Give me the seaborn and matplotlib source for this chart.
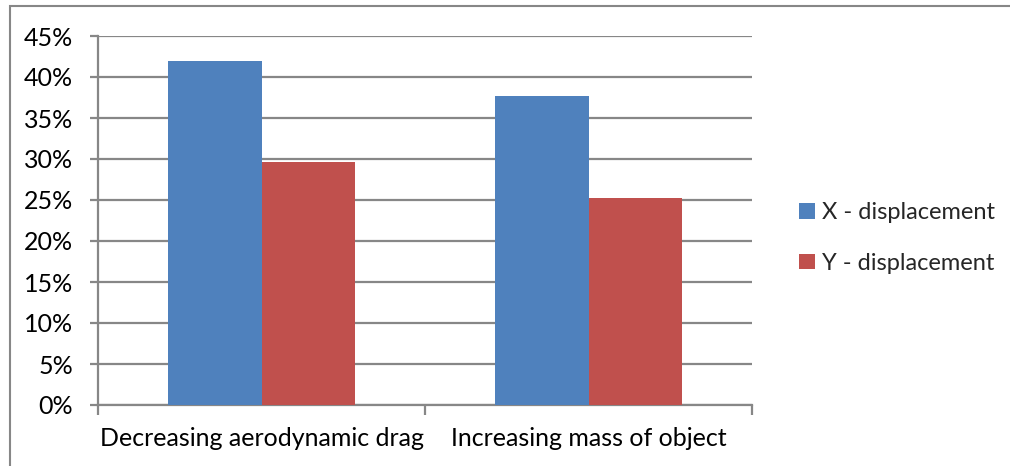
import matplotlib
matplotlib.use("Agg")
import matplotlib.pyplot as plt
from matplotlib.patches import Rectangle
from matplotlib.ticker import MultipleLocator, FixedLocator, PercentFormatter
import seaborn as sns
import pandas as pd

# Share of change in displacement for each scenario
categories = ["Decreasing aerodynamic drag", "Increasing mass of object"]
series_names = ["X - displacement", "Y - displacement"]
x_displacement = [0.42, 0.377]
y_displacement = [0.296, 0.253]
series_colors = ["#4F81BD", "#C0504D"]

df = pd.DataFrame({
    "category": categories * 2,
    "series": [series_names[0]] * len(categories) + [series_names[1]] * len(categories),
    "value": x_displacement + y_displacement,
})

sns.set_theme(style="white")
plt.rcParams["font.family"] = ["Lato", "DejaVu Sans"]

W, H = 1010, 466
fig = plt.figure(figsize=(W / 100, H / 100), dpi=100)
ax = fig.add_axes([98 / W, 1 - 405 / H, (752 - 98) / W, (405 - 36) / H])

sns.barplot(data=df, x="category", y="value", hue="series", order=categories,
            hue_order=series_names, palette=series_colors, width=1 / 1.75,
            saturation=1, errorbar=None, ax=ax, legend=True, zorder=3,
            linewidth=0)

grid_color = "#878787"
ax.set_ylim(0, 0.45)
ax.set_xlim(-0.5, len(categories) - 0.5)
ax.yaxis.set_major_locator(MultipleLocator(0.05))
ax.yaxis.set_major_formatter(PercentFormatter(1.0, decimals=0))
ax.grid(axis="y", color=grid_color, linewidth=1.6, zorder=0)
ax.set_axisbelow(True)
ax.set_xlabel("")
ax.set_ylabel("")

for s in ["top", "right"]:
    ax.spines[s].set_visible(False)
for s in ["left", "bottom"]:
    ax.spines[s].set_color(grid_color)
    ax.spines[s].set_linewidth(1.6)

label_size = 18
ax.tick_params(axis="y", which="major", length=6, width=1.6, color=grid_color,
               labelsize=label_size, labelcolor="black", pad=12, left=True)
ax.tick_params(axis="x", which="major", length=0, labelsize=label_size,
               labelcolor="black", pad=16)
ax.xaxis.set_minor_locator(FixedLocator([i - 0.5 for i in range(len(categories) + 1)]))
ax.tick_params(axis="x", which="minor", length=7, width=1.6, color=grid_color, bottom=True)

handles, labels = ax.get_legend_handles_labels()
ax.get_legend().remove()
fig.legend(handles, labels, loc="center left", bbox_to_anchor=(790 / W, 1 - 238 / H),
           frameon=False, fontsize=17, handlelength=0.65, handleheight=0.65,
           handletextpad=0.3, labelspacing=1.25, borderaxespad=0)

# Chart frame (left and top edges visible)
fig.patches.append(Rectangle((10 / W, -0.05), 1.2, 1 - 6 / H + 0.05,
                             transform=fig.transFigure, fill=False,
                             edgecolor=grid_color, linewidth=1.5))

fig.savefig("out.png", dpi=100)
